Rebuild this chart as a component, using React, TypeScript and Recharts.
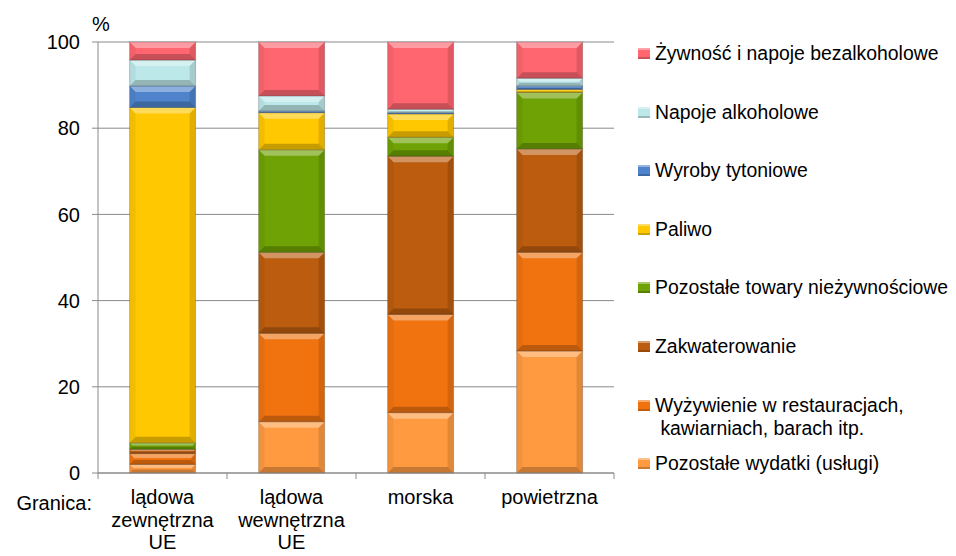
import React from "react";
import { BarChart, Bar, XAxis, YAxis, CartesianGrid, Legend, Label } from "recharts";

const categories = [
  "lądowa\nzewnętrzna\nUE",
  "lądowa\nwewnętrzna\nUE",
  "morska",
  "powietrzna",
];

// udział w %, od dołu słupka
const uslugi = [2.0, 11.9, 14.0, 28.3];
const restauracje = [2.5, 20.5, 22.8, 22.9];
const zakwaterowanie = [1.0, 18.8, 36.7, 24.0];
const nieZywnosciowe = [1.5, 23.8, 4.4, 13.1];
const paliwo = [77.8, 8.6, 5.4, 0.7];
const tyton = [5.0, 0.4, 0.3, 0.8];
const alkohol = [6.0, 3.5, 0.8, 1.8];
const zywnosc = [4.2, 12.5, 15.6, 8.4];

const yTicks = [0, 20, 40, 60, 80, 100];

const series = [
  { key: "uslugi", name: "Pozostałe wydatki (usługi)", color: "#FF9A40", values: uslugi },
  { key: "restauracje", name: "Wyżywienie w restauracjach,\n kawiarniach, barach itp.", color: "#F07310", values: restauracje },
  { key: "zakwaterowanie", name: "Zakwaterowanie", color: "#BB5C0F", values: zakwaterowanie },
  { key: "nieZywnosciowe", name: "Pozostałe towary nieżywnościowe", color: "#6FA204", values: nieZywnosciowe },
  { key: "paliwo", name: "Paliwo", color: "#FFC800", values: paliwo },
  { key: "tyton", name: "Wyroby tytoniowe", color: "#4F84CC", values: tyton },
  { key: "alkohol", name: "Napoje alkoholowe", color: "#BDE8EA", values: alkohol },
  { key: "zywnosc", name: "Żywność i napoje bezalkoholowe", color: "#FF6670", values: zywnosc },
];

const data = categories.map((name, i) => {
  const row: Record<string, any> = { name };
  series.forEach((s) => (row[s.key] = s.values[i]));
  return row;
});

const FONT = '"Liberation Sans", Arial, sans-serif';
const GRID = "#8a8a8a";

function BevelBar(props: any) {
  const { x, y, width, height, fill } = props;
  if (!height || height <= 0) return null;
  const b = Math.min(6, height / 2.5, width / 2);
  const x2 = x + width;
  const y2 = y + height;
  return (
    <g>
      <rect x={x} y={y} width={width} height={height} fill={fill} />
      <polygon points={`${x},${y} ${x2},${y} ${x2 - b},${y + b} ${x + b},${y + b}`} fill="#fff" opacity={0.35} />
      <polygon points={`${x},${y2} ${x2},${y2} ${x2 - b},${y2 - b} ${x + b},${y2 - b}`} fill="#000" opacity={0.22} />
      <polygon points={`${x},${y} ${x + b},${y + b} ${x + b},${y2 - b} ${x},${y2}`} fill="#000" opacity={0.05} />
      <polygon points={`${x2},${y} ${x2 - b},${y + b} ${x2 - b},${y2 - b} ${x2},${y2}`} fill="#000" opacity={0.12} />
      <rect x={x} y={y} width={width} height={height} fill="none" stroke="#000" strokeOpacity={0.2} strokeWidth={1} />
    </g>
  );
}

// etykiety kategorii + kreski na granicach kategorii (jak w Excelu)
function CategoryTick(props: any) {
  const { x, y, payload, index, visibleTicksCount } = props;
  const lines = String(payload.value).split("\n");
  const half = payload.offset || 0;
  const axisY = y - 8;
  const isLast = index === (visibleTicksCount ?? categories.length) - 1;
  return (
    <g>
      <line x1={x - half} x2={x - half} y1={axisY} y2={axisY + 6} stroke={GRID} />
      {isLast && <line x1={x + half} x2={x + half} y1={axisY} y2={axisY + 6} stroke={GRID} />}
      <text x={x} y={y} textAnchor="middle" fontSize={20} fill="#000" fontFamily={FONT}>
        {lines.map((l, i) => (
          <tspan key={i} x={x} dy={i === 0 ? 23 : 22.5}>
            {l}
          </tspan>
        ))}
      </text>
    </g>
  );
}

const legendTops = [45, 104, 162, 221, 279, 338, 397, 455];

function LegendContent() {
  const items = [...series].reverse();
  return (
    <div style={{ position: "relative", width: 318, height: 500, fontFamily: FONT, fontSize: 19.4, color: "#000" }}>
      {items.map((it, i) => (
        <div key={it.key} style={{ position: "absolute", left: 0, top: legendTops[i] - 11.5, lineHeight: "23px", whiteSpace: "pre" }}>
          <span
            style={{
              position: "absolute",
              left: 0,
              top: 6,
              width: 12,
              height: 11,
              background: it.color,
              boxShadow: "inset 0 2px 0 rgba(255,255,255,0.4), inset 0 -2px 0 rgba(0,0,0,0.2)",
            }}
          />
          <span style={{ position: "absolute", left: 17, top: 0 }}>{it.name}</span>
        </div>
      ))}
    </div>
  );
}

export default function App() {
  return (
    <div style={{ width: 948, height: 548, position: "relative", fontFamily: FONT }}>
      <BarChart
        width={948}
        height={548}
        data={data}
        margin={{ top: 34, right: 342, bottom: 23, left: 30 }}
        barCategoryGap="24.5%"
      >
        <XAxis
          dataKey="name"
          interval={0}
          height={60}
          axisLine={{ stroke: GRID }}
          tickLine={false}
          tickSize={6}
          tickMargin={2}
          tick={<CategoryTick />}
        >
          <Label
            content={(p: any) => (
              <text
                x={p.viewBox.x - 6}
                y={p.viewBox.y + 37}
                textAnchor="end"
                fontSize={20}
                fill="#000"
                fontFamily={FONT}
              >
                Granica:
              </text>
            )}
          />
        </XAxis>
        <YAxis
          width={60}
          domain={[0, 100]}
          ticks={yTicks}
          interval={0}
          axisLine={{ stroke: GRID }}
          tickLine={{ stroke: GRID }}
          tickSize={6}
          tickMargin={12}
          tick={{ fontSize: 20, fill: "#000", fontFamily: FONT }}
        >
          <Label
            content={(p: any) => (
              <text
                x={p.viewBox.x + p.viewBox.width - 6}
                y={p.viewBox.y - 11}
                textAnchor="start"
                fontSize={20}
                fill="#000"
                fontFamily={FONT}
              >
                %
              </text>
            )}
          />
        </YAxis>
        <CartesianGrid vertical={false} stroke={GRID} />
        {series.map((s) => (
          <Bar
            key={s.key}
            dataKey={s.key}
            name={s.name}
            stackId="a"
            fill={s.color}
            shape={<BevelBar />}
            isAnimationActive={false}
          />
        ))}
        <Legend
          layout="vertical"
          align="center"
          verticalAlign="middle"
          content={<LegendContent />}
          wrapperStyle={{ left: 630, top: 0, width: 318, height: 500 }}
        />
      </BarChart>
    </div>
  );
}
